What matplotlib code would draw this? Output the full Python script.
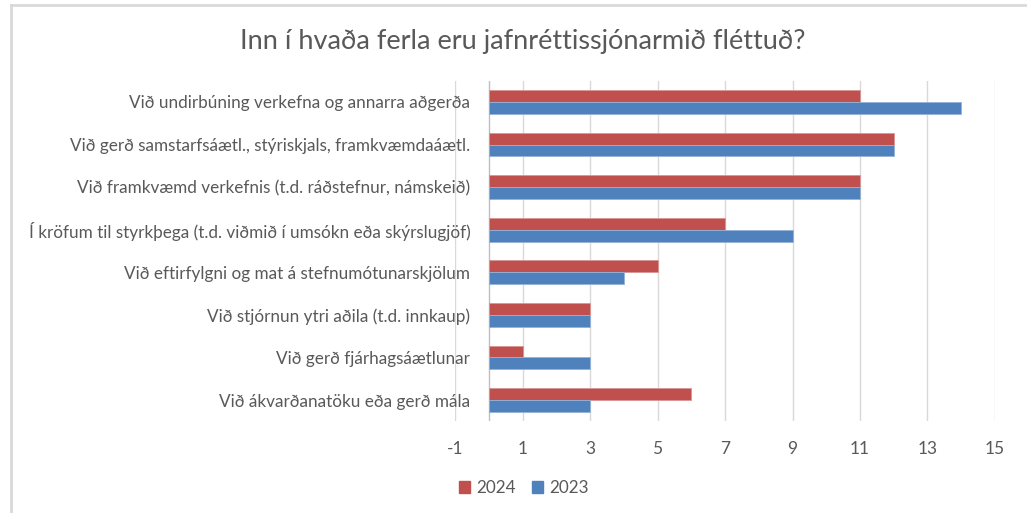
import matplotlib
matplotlib.use("Agg")
import matplotlib.pyplot as plt
from matplotlib.lines import Line2D
import numpy as np

plt.rcParams['font.family'] = ['Lato', 'DejaVu Sans']

categories = [
    "Við undirbúning verkefna og annarra aðgerða",
    "Við gerð samstarfsáætl., stýriskjals, framkvæmdaáætl.",
    "Við framkvæmd verkefnis (t.d. ráðstefnur, námskeið)",
    "Í kröfum til styrkþega (t.d. viðmið í umsókn eða skýrslugjöf)",
    "Við eftirfylgni og mat á stefnumótunarskjölum",
    "Við stjórnun ytri aðila (t.d. innkaup)",
    "Við gerð fjárhagsáætlunar",
    "Við ákvarðanatöku eða gerð mála",
]
values_2024 = [11, 12, 11, 7, 5, 3, 1, 6]
values_2023 = [14, 12, 11, 9, 4, 3, 3, 3]
xticks = [-1, 1, 3, 5, 7, 9, 11, 13, 15]
title = "Inn í hvaða ferla eru jafnréttissjónarmið fléttuð?"

W, H = 1027, 513
fig = plt.figure(figsize=(W/100, H/100), dpi=100)
left, right = 455/W, 995/W
bottom, top = 1 - 421.3/H, 1 - 80.7/H
ax = fig.add_axes([left, bottom, right-left, top-bottom])

red = "#C0504D"
blue = "#4F81BD"
txt = "#595959"
grid = "#D9D9D9"

y = np.arange(len(categories))
h = 0.28
ax.barh(y - h/2, values_2024, height=h, color=red, edgecolor="#D99694", linewidth=0.6, label="2024", zorder=3)
ax.barh(y + h/2, values_2023, height=h, color=blue, edgecolor="#95B3D7", linewidth=0.6, label="2023", zorder=3)

ax.set_xlim(-1, 15)
ax.set_ylim(len(categories) - 0.5, -0.5)
ax.set_xticks(xticks)
ax.set_xticklabels([str(t) for t in xticks], fontsize=12.5, color=txt)
ax.set_yticks(y)
ax.set_yticklabels(categories, fontsize=12.3, color=txt)
ax.tick_params(axis='both', length=0)
ax.tick_params(axis='x', pad=14)
ax.tick_params(axis='y', pad=-11)
for s in ax.spines.values():
    s.set_visible(False)
ax.grid(axis='x', color=grid, linewidth=1, zorder=0)
ax.axvline(0, color="#BFBFBF", linewidth=1, zorder=2)

fig.text(523/W, 1 - 42/H, title, fontsize=19.5, color=txt, ha='center', va='center')

handles = [plt.Rectangle((0, 0), 1, 1, color=red), plt.Rectangle((0, 0), 1, 1, color=blue)]
fig.legend(handles, ["2024", "2023"], loc='center', bbox_to_anchor=(524/W, 1 - 488/H),
           ncol=2, frameon=False, fontsize=12.3, labelcolor=txt,
           handlelength=0.65, handleheight=0.65, handletextpad=0.4, columnspacing=0.9)

# border lines (top and left)
fig.add_artist(Line2D([10.7/W, 1], [1 - 4.5/H, 1 - 4.5/H], transform=fig.transFigure, color=grid, linewidth=2))
fig.add_artist(Line2D([10.7/W, 10.7/W], [0, 1 - 4.5/H], transform=fig.transFigure, color=grid, linewidth=2))

fig.savefig("out.png", dpi=100)
